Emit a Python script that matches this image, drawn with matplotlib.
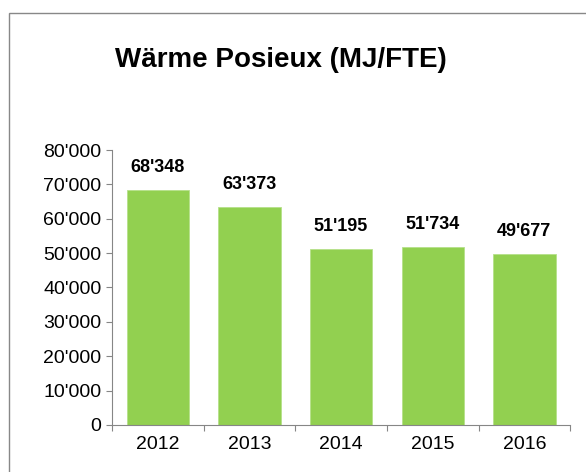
import matplotlib
matplotlib.use("Agg")
import matplotlib.pyplot as plt
from matplotlib.ticker import FuncFormatter, MultipleLocator
from matplotlib.patches import Rectangle

years = ["2012", "2013", "2014", "2015", "2016"]
values = [68348, 63373, 51195, 51734, 49677]
title = "Wärme Posieux (MJ/FTE)"

def fmt(v, pos=None):
    return f"{int(v):,}".replace(",", "'")

plt.rcParams['font.family'] = ['Liberation Sans', 'DejaVu Sans']

fig = plt.figure(figsize=(5.86, 4.72), dpi=100)
ax = fig.add_axes([0.191, 0.0996, 0.782, 0.5826])

x = range(len(years))
ax.bar(x, values, width=0.68, color="#92D050", edgecolor="#B5E08A", linewidth=0.6, zorder=2)
for i, v in zip(x, values):
    ax.annotate(fmt(v), (i, v), xytext=(0, 10), textcoords="offset points",
                ha="center", va="bottom", fontsize=13, fontweight="bold")

ax.set_xlim(-0.5, len(years) - 0.5)
ax.set_ylim(0, 80000)
ax.yaxis.set_major_locator(MultipleLocator(10000))
ax.yaxis.set_major_formatter(FuncFormatter(fmt))
ax.set_xticks([i - 0.5 for i in range(len(years) + 1)])
ax.set_xticklabels([])
ax.set_xticks(list(x), minor=True)
ax.set_xticklabels(years, minor=True)
ax.tick_params(axis="x", which="minor", length=0, labelsize=14, pad=8)
ax.tick_params(axis="x", which="major", length=4.5, color="#868686", direction="out")
ax.tick_params(axis="y", length=4.5, color="#868686", labelsize=14, direction="out", pad=3)
for s in ["top", "right"]:
    ax.spines[s].set_visible(False)
for s in ["left", "bottom"]:
    ax.spines[s].set_color("#868686")

fig.text(0.48, 0.873, title, ha="center", va="center", fontsize=20, fontweight="bold")
fig.patches.append(Rectangle((9 / 586, -0.1), 1.2, 0.1 + 1 - 13 / 472, transform=fig.transFigure,
                             fill=False, edgecolor="#888888", linewidth=1.0))

fig.savefig("out.png", dpi=100)
